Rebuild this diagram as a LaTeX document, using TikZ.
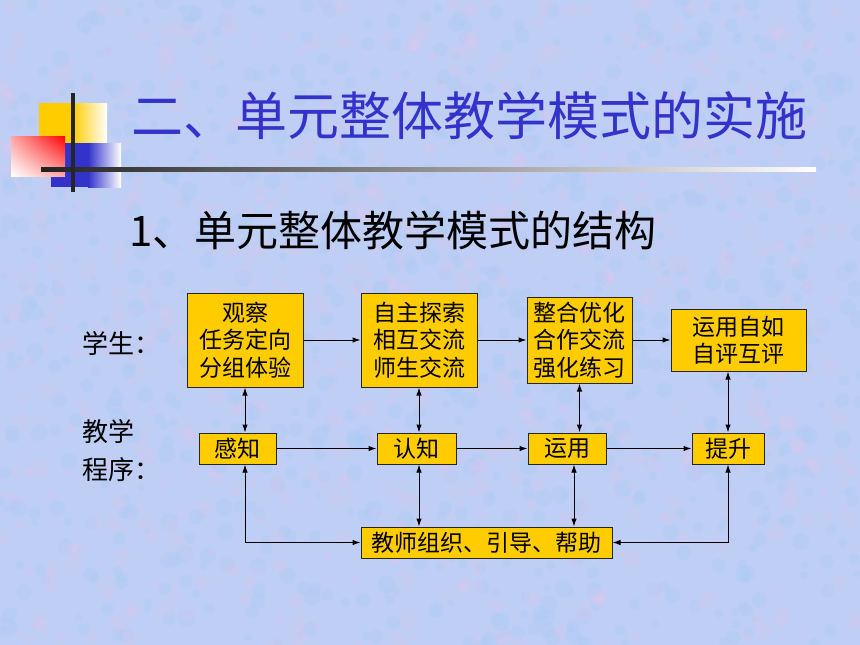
\documentclass[tikz,border=0pt]{standalone}
\usepackage{fontspec}
\newfontfamily\cjk{Noto Sans CJK SC}
\usetikzlibrary{arrows.meta,shadings}
\definecolor{fundo}{RGB}{190,206,244}
\definecolor{manchaaosa}{RGB}{226,198,238}
\definecolor{manchaazul}{RGB}{166,202,248}
\definecolor{azultitulo}{RGB}{51,51,204}
\definecolor{amarelo}{RGB}{255,204,0}
\definecolor{vermelho}{RGB}{255,0,0}
\definecolor{cinzalinha}{RGB}{35,35,35}

\begin{document}
\begin{tikzpicture}[x=1pt, y=-1pt,
    >={Latex[length=8pt,width=5.5pt]},
    caixa/.style={draw=black!85, fill=amarelo, line width=1pt, inner sep=0pt,
      align=center, font=\cjk\fontsize{23}{27.5}\selectfont},
    rotulo/.style={inner sep=0pt, anchor=west, align=left,
      font=\cjk\fontsize{26}{38}\selectfont},
    seta/.style={->, line width=1pt},
    setadupla/.style={<->, line width=1pt}
  ]
  % Fundo
  \fill[fundo] (0,0) rectangle (860,645);
  \useasboundingbox (0,0) rectangle (860,645);
  \begin{scope}
    \clip (0,0) rectangle (860,645);
    \pgfmathsetseed{7}
    \foreach \i in {1,...,900}{
      \pgfmathsetmacro{\px}{rnd*860}
      \pgfmathsetmacro{\py}{rnd*645}
      \pgfmathsetmacro{\raio}{3+rnd*6}
      \fill[manchaaosa, opacity=0.22] (\px,\py) circle (\raio);
      \pgfmathsetmacro{\qx}{rnd*860}
      \pgfmathsetmacro{\qy}{rnd*645}
      \fill[manchaazul, opacity=0.22] (\qx,\qy) circle (\raio);
    }
  \end{scope}

  % Enfeite do titulo
  \fill[amarelo] (39,103) rectangle (72,143);
  \shade[left color=amarelo, right color=white] (72,103) rectangle (107,143);
  \fill[azultitulo] (51,143) rectangle (88,187);
  \shade[left color=azultitulo, right color=white] (88,143) rectangle (121,187);
  \shade[upper left=vermelho!35!white, upper right=vermelho,
    lower left=white, lower right=vermelho!35!white] (11,136) rectangle (65,176);
  \shade[left color=cinzalinha, right color=white] (41,167) rectangle (816,171);
  \draw[line width=3.5pt, black!85] (73,93) -- (73,192);

  % Titulos
  \node[inner sep=0pt, anchor=west, text=azultitulo,
    font=\cjk\fontsize{52}{60}\selectfont] (titulo) at (131,116) {二、单元整体教学模式的实施};
  \node[inner sep=0pt, anchor=west,
    font=\cjk\fontsize{42}{50}\selectfont] (subtitulo) at (129,230) {1、单元整体教学模式的结构};

  % Rotulos
  \node[rotulo] (aluno) at (82,343) {学生：};
  \node[rotulo] (programa) at (82,451) {教学\\程序：};

  % Caixas do aluno
  \node[caixa, minimum width=116pt, minimum height=94pt] (guancha) at (245,340) {观察\\任务定向\\分组体验};
  \node[caixa, minimum width=116pt, minimum height=94pt] (zizhu) at (419,340) {自主探索\\相互交流\\师生交流};
  \node[caixa, minimum width=105pt, minimum height=86pt] (zhenghe) at (579.5,340) {整合优化\\合作交流\\强化练习};
  \node[caixa, minimum width=135pt, minimum height=62pt] (yunyongzr) at (738.5,340) {运用自如\\自评互评};

  % Caixas do programa
  \node[caixa, minimum width=77pt, minimum height=31pt] (ganzhi) at (237.5,448.5) {感知};
  \node[caixa, minimum width=79pt, minimum height=31pt] (renzhi) at (416.5,448.5) {认知};
  \node[caixa, minimum width=78pt, minimum height=31pt] (yunyong) at (567,448.5) {运用};
  \node[caixa, minimum width=72pt, minimum height=31pt] (tisheng) at (728,448.5) {提升};
  \node[caixa, minimum width=251pt, minimum height=31pt] (jiaoshi) at (486.5,542.5) {教师组织、引导、帮助};

  % Setas horizontais
  \draw[seta] (guancha) -- (zizhu);
  \draw[seta] (zizhu) -- (zhenghe);
  \draw[seta] (zhenghe) -- (yunyongzr);
  \draw[seta] (ganzhi) -- (renzhi);
  \draw[seta] (renzhi) -- (yunyong);
  \draw[seta] (yunyong) -- (tisheng);

  % Setas verticais
  \draw[setadupla] (guancha.south) -- (guancha.south |- ganzhi.north);
  \draw[setadupla] (zizhu.south) -- (zizhu.south |- renzhi.north);
  \draw[setadupla] (zhenghe.south) -- (zhenghe.south |- yunyong.north);
  \draw[setadupla] (tisheng.north) -- (tisheng.north |- yunyongzr.south);

  % Setas do professor
  \draw[setadupla] (guancha.south |- ganzhi.south) |- (jiaoshi.west);
  \draw[setadupla] (zizhu.south |- renzhi.south) -- (zizhu.south |- jiaoshi.north);
  \draw[setadupla] ([xshift=7pt]yunyong.south) -- ([xshift=7pt]yunyong.south |- jiaoshi.north);
  \draw[setadupla] (tisheng.south) |- (jiaoshi.east);

\end{tikzpicture}
\end{document}
